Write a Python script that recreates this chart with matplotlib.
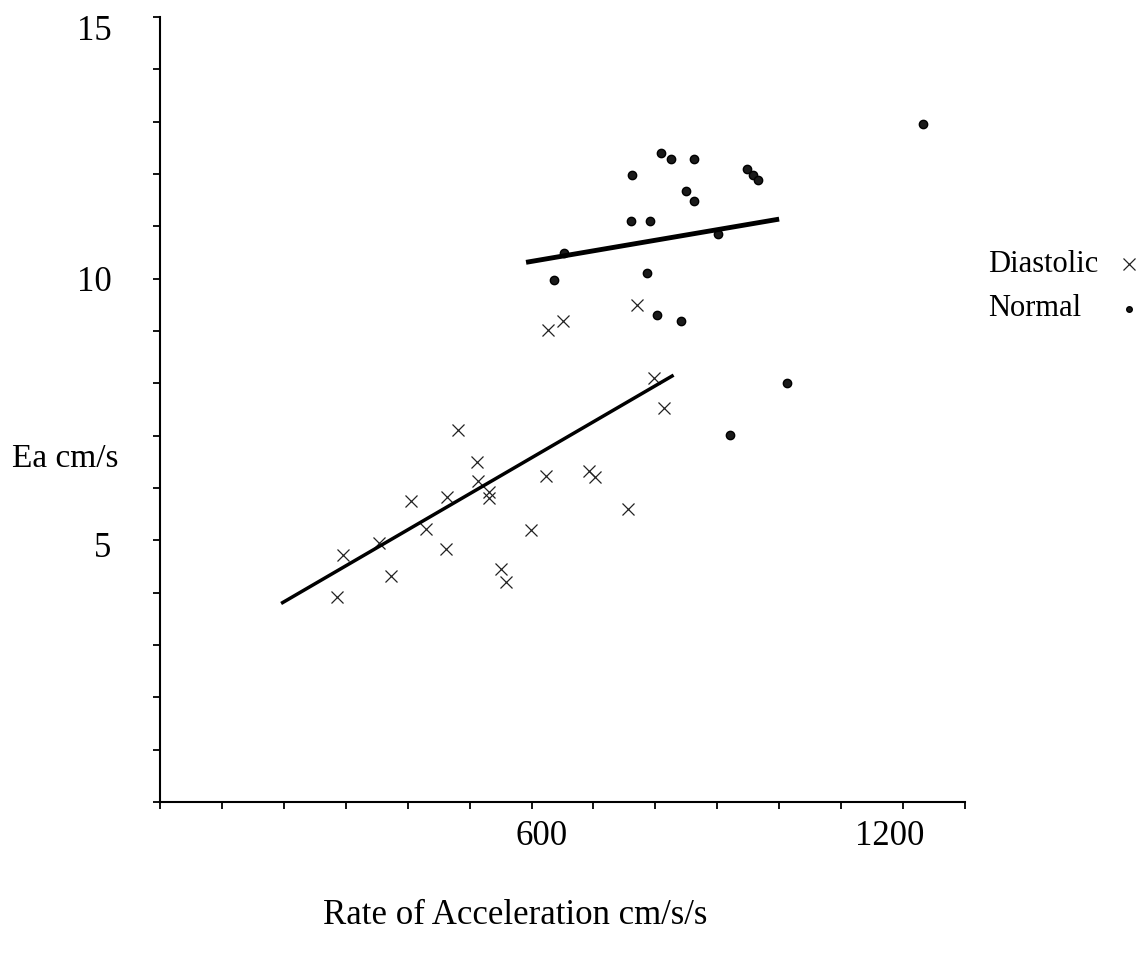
import matplotlib
matplotlib.use("Agg")
import matplotlib.pyplot as plt
from matplotlib.transforms import ScaledTranslation

plt.rcParams['font.family'] = ['Liberation Serif', 'DejaVu Serif']

# Diastolic group (crosses)
diastolic_x = [626, 651, 771, 797, 814, 481, 512, 514, 531, 532, 624, 599, 405,
               464, 429, 353, 295, 462, 373, 286, 550, 558, 692, 702, 756]
diastolic_y = [9.02, 9.20, 9.50, 8.11, 7.52, 7.11, 6.50, 6.13, 5.93, 5.80, 6.23,
               5.20, 5.76, 5.82, 5.21, 4.95, 4.72, 4.83, 4.32, 3.91, 4.46, 4.21,
               6.33, 6.21, 5.60]

# Normal group (dots)
normal_x = [809, 825, 863, 762, 948, 958, 965, 850, 863, 760, 792, 901, 653,
            637, 786, 802, 842, 1232, 1012, 921]
normal_y = [12.40, 12.28, 12.28, 11.98, 12.10, 11.98, 11.88, 11.68, 11.48, 11.10,
            11.10, 10.86, 10.49, 9.98, 10.11, 9.30, 9.19, 12.95, 8.01, 7.02]

# fitted lines (end points)
diastolic_fit_x = [198, 827]
diastolic_fit_y = [3.81, 8.14]
normal_fit_x = [595, 996]
normal_fit_y = [10.32, 11.13]

x_labelled = [600, 1200]
y_labelled = [5, 10, 15]

fig = plt.figure(figsize=(11.43, 9.58), dpi=100)
ax = fig.add_axes([160 / 1143, 156 / 958, 805 / 1143, 785 / 958])

x_style = dict(marker='x', linestyle='none', color='#222222', markersize=8,
               markeredgewidth=0.9)
o_style = dict(marker='o', linestyle='none', markerfacecolor='#1a1a1a',
               markeredgecolor='black', markersize=6, markeredgewidth=1)

ax.plot(diastolic_x, diastolic_y, **x_style)
ax.plot(normal_x, normal_y, **o_style)
ax.plot(diastolic_fit_x, diastolic_fit_y, '-', color='black', linewidth=2.5)
ax.plot(normal_fit_x, normal_fit_y, '-', color='black', linewidth=3.5)

ax.set_xlim(0, 1300)
ax.set_ylim(0, 15)

for s in ['top', 'right']:
    ax.spines[s].set_visible(False)
ax.spines['left'].set_linewidth(1.5)
ax.spines['bottom'].set_linewidth(1.5)

xt = list(range(0, 1301, 100))
ax.set_xticks(xt)
ax.set_xticklabels([str(v) if v in x_labelled else '' for v in xt])
yt = list(range(0, 16))
ax.set_yticks(yt)
ax.set_yticklabels([str(v) if v in y_labelled else '' for v in yt])
ax.tick_params(axis='both', direction='out', length=5, width=1.3, labelsize=25)
ax.tick_params(axis='x', pad=8)
ax.tick_params(axis='y', pad=30)

# the original software places the labels a little off their ticks
x_shift = {'600': 0.10, '1200': -0.13}
for lab in ax.get_xticklabels():
    if lab.get_text() in x_shift:
        lab.set_transform(lab.get_transform() +
                          ScaledTranslation(x_shift[lab.get_text()], 0, fig.dpi_scale_trans))
y_shift = {'15': -0.10, '5': -0.04}
for lab in ax.get_yticklabels():
    if lab.get_text() in y_shift:
        lab.set_transform(lab.get_transform() +
                          ScaledTranslation(0, y_shift[lab.get_text()], fig.dpi_scale_trans))

ax.set_xlabel('Rate of Acceleration cm/s/s', fontsize=25)
ax.xaxis.set_label_coords(0.441, -0.144)
ax.xaxis.label.set_verticalalignment('center')
ax.set_ylabel('Ea cm/s', fontsize=24, rotation=0)
ax.yaxis.set_label_coords(-0.118, 0.437)
ax.yaxis.label.set_verticalalignment('center')
ax.yaxis.label.set_horizontalalignment('center')

# legend: left aligned names, symbol to the right
for name, style, ypix in [('Diastolic', x_style, 264), ('Normal', o_style, 309)]:
    fy = 1 - ypix / 958
    fig.text(988 / 1143, fy, name, fontsize=22, ha='left', va='center')
    st = dict(style)
    if name == 'Normal':
        st['markersize'] = 4
    else:
        st['markersize'] = 9
    fig.add_artist(plt.Line2D([1129 / 1143], [fy], transform=fig.transFigure, **st))

fig.savefig('out.png', dpi=100)
